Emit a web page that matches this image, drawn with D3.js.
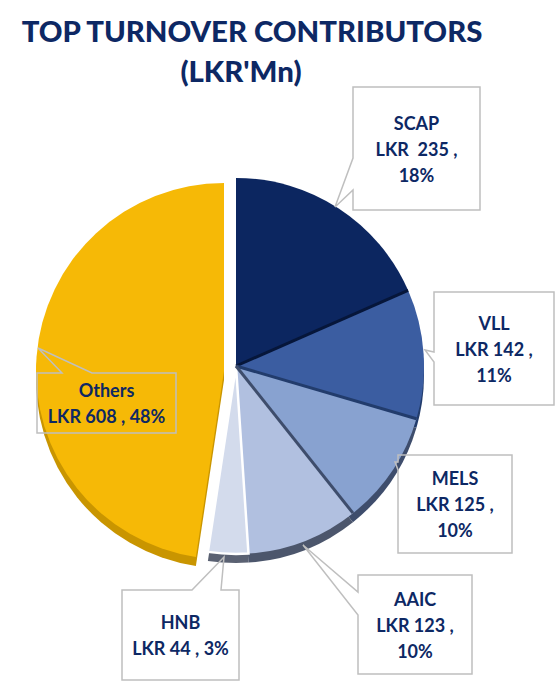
<!DOCTYPE html>
<html>
<meta charset="UTF-8">
<head>
<style>
body { margin: 0; background: white; }
text { font-family: Lato, "Open Sans", sans-serif; font-weight: bold; }
.title { font-weight: 900; }
</style>
</head>
<body>
<script src="https://d3js.org/d3.v7.min.js"></script>
<script>

// data (LKR Mn)
var categories = ['SCAP', 'VLL', 'MELS', 'AAIC', 'HNB', 'Others']
var values = [235, 142, 125, 123, 44, 608]
var titleLines = ['TOP TURNOVER CONTRIBUTORS', "(LKR'Mn)"]

// colours per slice, and the darker 3D edge under each
var colors = ['#0c2660', '#3b5da1', '#88a2d0', '#b1c0e0', '#d3dbec', '#f6b906']
var rimColors = ['#06163a', '#223c6c', '#3e4d6c', '#4c566c', '#5a6172', '#c99500']
var textColor = '#0d2864'

// canvas
var svgWidth = 555
    svgHeight = 688
    cx = 236
    cy = 366
    radius = 188
    depth = 9

// callout boxes: [x, y, w, h], pointer tip, pointer base (two points on the box edge)
var callouts = [
  {box: [353, 87, 127, 123], tip: [335, 207], base: [[353, 190], [353, 158]], lines: 3},
  {box: [434, 292, 120, 113], tip: [425, 350], base: [[434, 362], [434, 352]], lines: 3},
  {box: [398, 455, 114, 98], tip: [395, 462], base: [[398, 470], [398, 462]], lines: 3},
  {box: [358, 575, 114, 99], tip: [303, 545], base: [[358, 615], [358, 592]], lines: 3},
  {box: [122, 590, 117, 90], tip: [224, 557], base: [[192, 590], [221, 590]], lines: 2},
  {box: [37, 373, 139, 60], tip: [38, 348], base: [[62, 373], [92, 373]], lines: 2}
]
var explode = [[0, 0], [0, 0], [0, 0], [0, 0], [0, 0], [-12, 5]]

var total = d3.sum(values)

var svg = d3.select('body').append('svg')
    .attr('width', svgWidth)
    .attr('height', svgHeight)

// title, sized to match original width
var title = svg.append('g')
var t1 = title.append('text')
    .attr('class', 'title')
    .attr('x', 252).attr('y', 42)
    .attr('text-anchor', 'middle')
    .attr('fill', textColor)
    .style('font-size', '30px')
    .text(titleLines[0])
var fs = 30 * 461 / t1.node().getComputedTextLength()
t1.style('font-size', fs + 'px')
title.append('text')
    .attr('class', 'title')
    .attr('x', 241).attr('y', 82)
    .attr('text-anchor', 'middle')
    .attr('fill', textColor)
    .style('font-size', fs + 'px')
    .text(titleLines[1])

// pie layout, clockwise from 12 o'clock
var pie = d3.pie().sort(null).value(d => d)
var arcs = pie(values)
var arc = d3.arc().innerRadius(0).outerRadius(radius)

var chart = svg.append('g')
    .attr('transform', 'translate(' + cx + ',' + cy + ')')

// 3D side: same slice dropped by depth
chart.selectAll('.side').data(arcs)
  .enter().append('path')
    .attr('class', 'side')
    .attr('transform', (d, i) => 'translate(' + explode[i][0] + ',' + (explode[i][1] + depth) + ')')
    .attr('d', arc)
    .attr('fill', (d, i) => rimColors[i])

// top faces
chart.selectAll('.face').data(arcs)
  .enter().append('path')
    .attr('class', 'face')
    .attr('transform', (d, i) => 'translate(' + explode[i][0] + ',' + explode[i][1] + ')')
    .attr('d', arc)
    .attr('fill', (d, i) => colors[i])
    .attr('stroke', (d, i) => categories[i] == 'HNB' ? 'white' : 'none')
    .attr('stroke-width', 2.5)

// dark bevel lines between the blue slices
chart.selectAll('.sep').data(arcs.slice(0, 3))
  .enter().append('line')
    .attr('class', 'sep')
    .attr('x1', 0).attr('y1', 0)
    .attr('x2', d => d3.pointRadial(d.endAngle, radius)[0])
    .attr('y2', d => d3.pointRadial(d.endAngle, radius)[1])
    .attr('stroke', (d, i) => rimColors[i])
    .attr('stroke-width', 3)

// callouts
function calloutPath(c) {
  var x = c.box[0], y = c.box[1], w = c.box[2], h = c.box[3]
  var b0 = c.base[0], b1 = c.base[1]
  if (b0[0] == x && b1[0] == x) {
    // pointer on the left side
    return 'M' + x + ',' + y + 'H' + (x + w) + 'V' + (y + h) + 'H' + x +
           'V' + b0[1] + 'L' + c.tip[0] + ',' + c.tip[1] + 'L' + x + ',' + b1[1] + 'Z'
  }
  // pointer on the top side
  return 'M' + x + ',' + y + 'H' + b0[0] + 'L' + c.tip[0] + ',' + c.tip[1] +
         'L' + b1[0] + ',' + y + 'H' + (x + w) + 'V' + (y + h) + 'H' + x + 'Z'
}

function labelLines(i) {
  var pct = Math.round(values[i] / total * 100)
  if (callouts[i].lines == 3) {
    var gap = categories[i] == 'SCAP' ? '  ' : ' '
    return [categories[i], 'LKR' + gap + values[i] + ' ,', pct + '%']
  }
  return [categories[i], 'LKR ' + values[i] + ' , ' + pct + '%']
}

var labels = svg.selectAll('.callout').data(callouts)
  .enter().append('g')
    .attr('class', 'callout')

labels.append('path')
    .attr('d', calloutPath)
    .attr('fill', 'none')
    .attr('stroke', '#bfbfbf')
    .attr('stroke-width', 1.5)

labels.each(function(c, i) {
  var lines = labelLines(i)
  var midX = c.box[0] + c.box[2] / 2
  var step = 26
  var first = c.box[1] + c.box[3] / 2 - (lines.length - 1) * step / 2 + 7
  d3.select(this).selectAll('text').data(lines)
    .enter().append('text')
      .attr('x', midX)
      .attr('y', (d, j) => first + j * step)
      .attr('text-anchor', 'middle')
      .attr('fill', textColor)
      .style('font-size', '18px')
      .style('white-space', 'pre')
      .text(d => d)
})

</script>
</body>
</html>
